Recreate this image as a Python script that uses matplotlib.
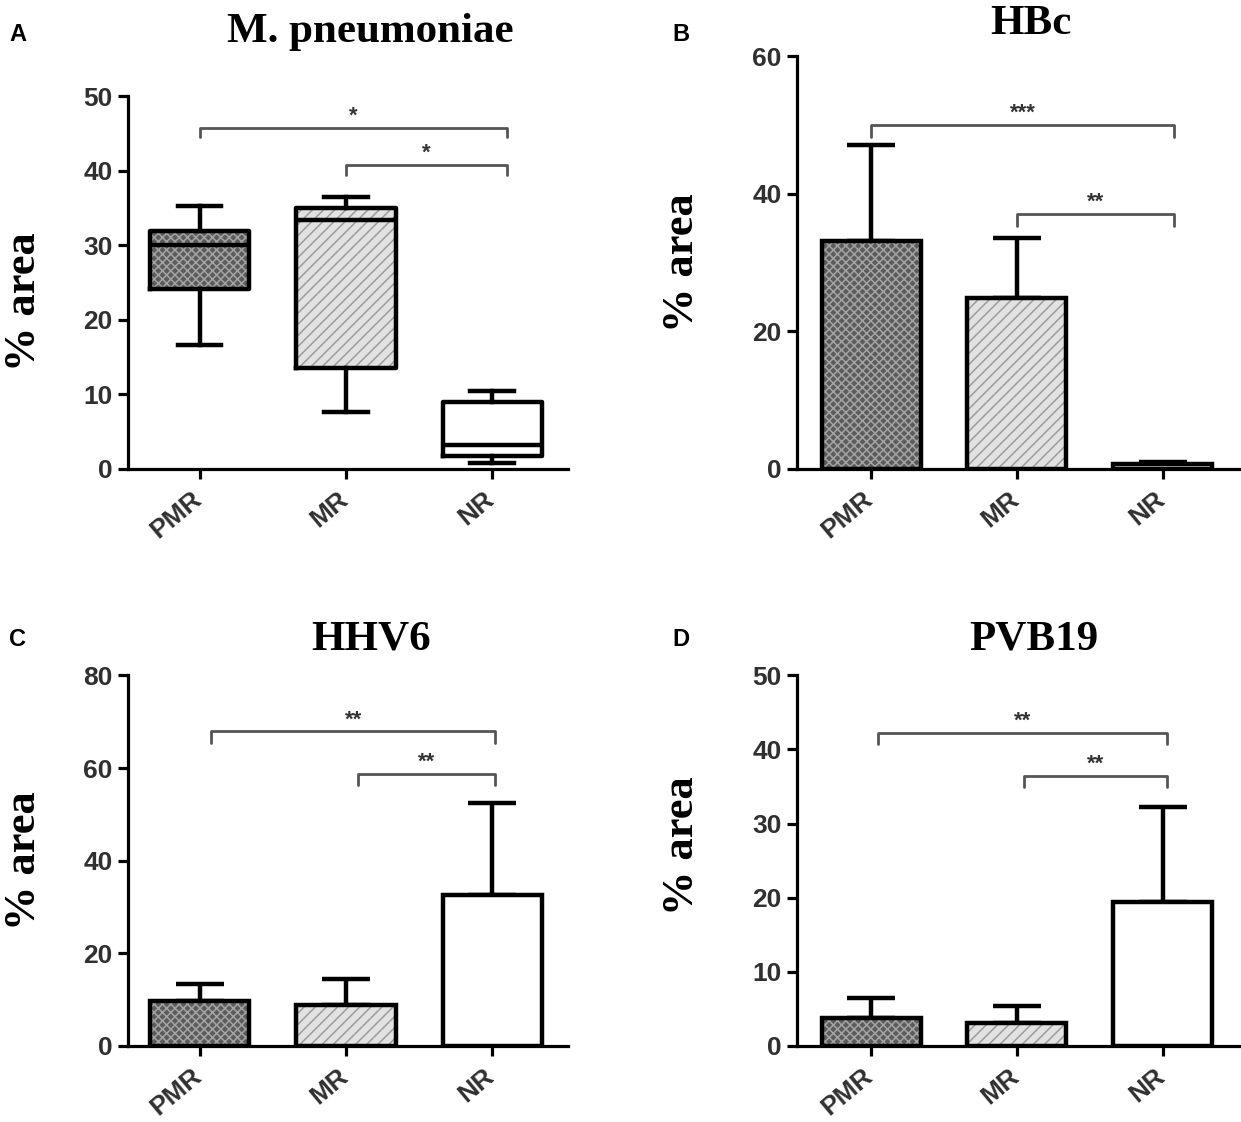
import numpy as np
import matplotlib
matplotlib.use("Agg")
import matplotlib.pyplot as plt
import matplotlib.transforms as mtransforms

groups = ["PMR", "MR", "NR"]

# panel A: box plot values (whisker low, q1, median, q3, whisker high)
mp_whislo = [16.7, 7.7, 0.8]
mp_q1 = [24.2, 13.5, 1.7]
mp_med = [30.0, 33.4, 3.2]
mp_q3 = [31.9, 35.0, 9.0]
mp_whishi = [35.3, 36.5, 10.5]

# panels B-D: mean and upper error
hbc_mean = [33.1, 24.8, 0.7]
hbc_err = [14.0, 8.8, 0.3]
hhv6_mean = [9.6, 8.8, 32.5]
hhv6_err = [3.7, 5.6, 19.9]
pvb19_mean = [3.8, 3.0, 19.4]
pvb19_err = [2.7, 2.3, 12.9]

# significance brackets: (from group, to group, height, label)
mp_sig = [(0, 2, 45.8, "*"), (1, 2, 40.8, "*")]
hbc_sig = [(0, 2, 50.0, "***"), (1, 2, 37.0, "**")]
hhv6_sig = [(0, 2, 67.9, "**"), (1, 2, 58.7, "**")]
pvb19_sig = [(0, 2, 42.2, "**"), (1, 2, 36.4, "**")]

fills = [("#5c5c5c", "xxxx", "#a4a4a4"), ("#e2e2e2", "///", "#9c9c9c"), ("white", "", "white")]

SANS = "Liberation Sans"
SERIF = "Liberation Serif"
plt.rcParams["hatch.linewidth"] = 1.1

fig = plt.figure(figsize=(12.41, 11.22), dpi=100)
shift = mtransforms.ScaledTranslation(-9 / 100, 0, fig.dpi_scale_trans)


def style_axes(ax, ymax, ystep, xlim):
    ax.set_xlim(*xlim)
    ax.set_ylim(0, ymax)
    ax.set_yticks(np.arange(0, ymax + 1, ystep))
    ax.set_xticks(range(len(groups)))
    ax.set_xticklabels(groups, rotation=40, ha="right", rotation_mode="anchor")
    for s in ["top", "right"]:
        ax.spines[s].set_visible(False)
    for s in ["left", "bottom"]:
        ax.spines[s].set_linewidth(2.3)
    ax.tick_params(width=2.3, length=7, labelsize=19, labelcolor="#303030", pad=4)
    ax.tick_params(axis="x", pad=6)
    for lab in ax.get_xticklabels():
        lab.set_transform(lab.get_transform() + shift)
    for lab in ax.get_xticklabels() + ax.get_yticklabels():
        lab.set_fontfamily(SANS)
        lab.set_fontweight("bold")


def brackets(ax, sig, drop, offs):
    for g1, g2, y, lab in sig:
        x1 = g1 + offs[0]
        x2 = g2 + offs[1]
        ax.plot([x1, x1, x2, x2], [y - drop, y, y, y - drop], color="#555555",
                lw=2.0, solid_joinstyle="round", solid_capstyle="round", clip_on=False)
        ax.text((x1 + x2) / 2, y + drop * 0.1, lab, ha="center", va="bottom",
                fontsize=16, fontweight="bold", color="#333333", family=SANS)


def bars(ax, means, errs):
    x = np.arange(len(groups))
    for i in range(len(groups)):
        face, hatch, hcol = fills[i]
        ax.bar(x[i], means[i], width=0.68, color=face, hatch=hatch, edgecolor=hcol,
               linewidth=0, zorder=2)
    ax.bar(x, means, width=0.68, facecolor="none", edgecolor="black", linewidth=3.2,
           zorder=3)
    ax.errorbar(x, means, yerr=[np.zeros(len(x)), errs], fmt="none", ecolor="black",
                elinewidth=3.2, capsize=17, capthick=3.2, zorder=1)


def ylab(ax, cx, cy):
    ax.set_ylabel("% area", family=SERIF, fontweight="bold", fontsize=32)
    ax.yaxis.set_label_coords(cx, cy)


# Panel A
axA = fig.add_axes([0.103, 0.582, 0.355, 0.332])
x = np.arange(len(groups))
for i in range(len(groups)):
    face, hatch, hcol = fills[i]
    axA.bar(x[i], mp_q3[i] - mp_q1[i], bottom=mp_q1[i], width=0.68, color=face,
            hatch=hatch, edgecolor=hcol, linewidth=0, zorder=1)
stats = []
for i in range(len(groups)):
    stats.append(dict(whislo=mp_whislo[i], q1=mp_q1[i], med=mp_med[i], q3=mp_q3[i],
                      whishi=mp_whishi[i], fliers=[]))
lp = dict(color="black", linewidth=3.2)
axA.bxp(stats, positions=x, widths=0.68, capwidths=0.3, showfliers=False,
        boxprops=lp, whiskerprops=lp, capprops=lp, medianprops=lp, zorder=2)
style_axes(axA, 50, 10, (-0.49, 2.52))
brackets(axA, mp_sig, 1.3, (0.0, 0.1))
ylab(axA, -0.19, 0.45)

# Panel B
axB = fig.add_axes([0.642, 0.582, 0.356, 0.368])
bars(axB, hbc_mean, hbc_err)
style_axes(axB, 60, 20, (-0.51, 2.52))
brackets(axB, hbc_sig, 1.7, (0.0, 0.08))
ylab(axB, -0.215, 0.50)

# Panel C
axC = fig.add_axes([0.103, 0.068, 0.355, 0.330])
bars(axC, hhv6_mean, hhv6_err)
style_axes(axC, 80, 20, (-0.49, 2.52))
brackets(axC, hhv6_sig, 2.4, (0.08, 0.02))
ylab(axC, -0.19, 0.50)

# Panel D
axD = fig.add_axes([0.642, 0.068, 0.356, 0.330])
bars(axD, pvb19_mean, pvb19_err)
style_axes(axD, 50, 10, (-0.51, 2.52))
brackets(axD, pvb19_sig, 1.4, (0.05, 0.03))
ylab(axD, -0.215, 0.54)

titles = [("M. pneumoniae", 0.298, 0.963), ("HBc", 0.831, 0.970),
          ("HHV6", 0.299, 0.421), ("PVB19", 0.833, 0.421)]
for t, tx, ty in titles:
    fig.text(tx, ty, t, ha="center", va="baseline", family=SERIF, fontweight="bold",
             fontsize=31)

letters = [("A", 0.0075, 0.969), ("B", 0.542, 0.969), ("C", 0.0075, 0.430), ("D", 0.542, 0.430)]
for t, tx, ty in letters:
    fig.text(tx, ty, t, ha="left", va="center", family=SANS, fontweight="bold",
             fontsize=17)

fig.savefig("out.png", dpi=100)
